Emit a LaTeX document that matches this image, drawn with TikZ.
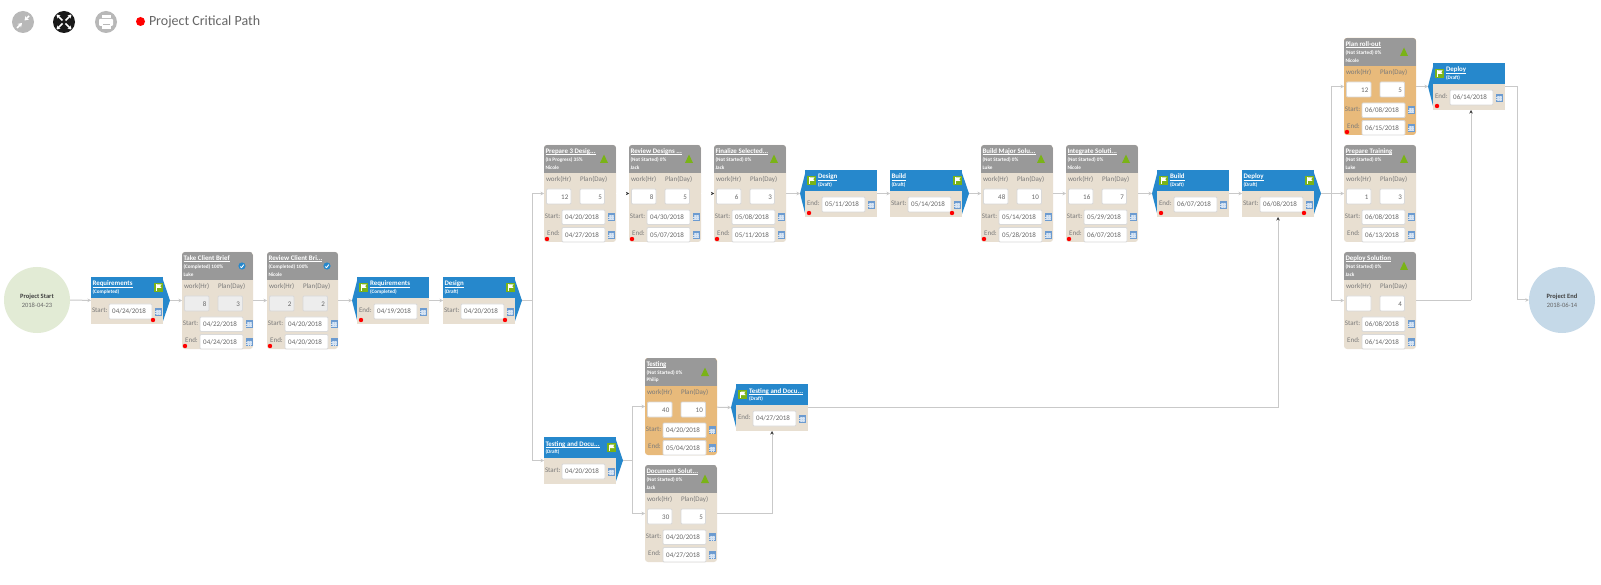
\documentclass[tikz,border=0pt]{standalone}
\usepackage{fontspec}
\setmainfont{Carlito}
\usetikzlibrary{arrows.meta}
\definecolor{tan}{HTML}{E8DFD1}
\definecolor{orangefill}{HTML}{E8BA7B}
\definecolor{headgray}{HTML}{999999}
\definecolor{msblue}{HTML}{2688CC}
\definecolor{flaggreen}{HTML}{7AB317}
\definecolor{linegray}{HTML}{C9C9C9}
\definecolor{lbl}{HTML}{7A7A7A}
\definecolor{datec}{HTML}{666666}
\definecolor{calblue}{HTML}{6C9BD0}
\definecolor{calpale}{HTML}{BCD2EA}
\definecolor{boxline}{HTML}{D9D9D9}
\definecolor{startgreen}{HTML}{E2EBD5}
\definecolor{endblue}{HTML}{C5D9E8}
\tikzset{
  txt/.style={inner sep=0pt,outer sep=0pt,anchor=west},
  cardbody/.style={anchor=north west,inner sep=0pt,outer sep=0pt,rounded corners=3pt,draw=none},
  msbody/.style={anchor=north west,inner sep=0pt,outer sep=0pt,fill=tan,minimum width=72pt,minimum height=47pt},
  title/.style={inner sep=0pt,outer sep=0pt,anchor=base west,text=white,font=\fontsize{6.9}{7}\selectfont\bfseries},
  small/.style={txt,text=white,font=\fontsize{5.2}{6}\selectfont\bfseries},
  label/.style={txt,text=lbl,font=\fontsize{7}{8}\selectfont},
  datebox/.style={draw=boxline,line width=0.8pt,rounded corners=1pt,fill=white},
  datetxt/.style={inner sep=0pt,text=datec,font=\fontsize{7}{8}\selectfont},
  conn/.style={draw=linegray,line width=1pt,-{Stealth[length=3.5pt,width=3.5pt,fill=lbl!70]}},
  connd/.style={draw=linegray,line width=1pt,-{Stealth[length=3.5pt,width=3.5pt,color=black!75]}},
  conng/.style={draw=white,line width=0.2pt,-{Stealth[length=3pt,width=3pt,color=black!80]}},
  reddot/.style={fill=red},
  uline/.style={draw=white,line width=0.4pt},
}
\newcommand{\calicon}[2]{% x y centre
  \fill[calpale] (#1-3,#2-3.5) rectangle (#1+3,#2+3.5);
  \fill[calblue] (#1-3,#2-3.5) rectangle (#1+3,#2-1.5);
  \draw[calblue,line width=0.3pt] (#1-3,#2-3.5) rectangle (#1+3,#2+3.5);
  \draw[calpale!60!white,line width=0.25pt] (#1-3,#2) -- (#1+3,#2) (#1-3,#2+1.8) -- (#1+3,#2+1.8) (#1-1,#2-1.5) -- (#1-1,#2+3.5) (#1+1,#2-1.5) -- (#1+1,#2+3.5);
}
\newcommand{\flagicon}[2]{% x y top-left
  \fill[flaggreen] (#1,#2) rectangle (#1+9,#2+9);
  \fill[white] (#1+2.4,#2+1.5) rectangle (#1+3.1,#2+8);
  \fill[white] (#1+3.1,#2+1.5) -- (#1+7.5,#2+1.5) -- (#1+6.2,#2+3.2) -- (#1+7.5,#2+5) -- (#1+3.1,#2+5) -- cycle;
}
\newcommand{\titletext}[4]{% name x y text
  \node[title] (#1-t) at (#2,#3) {#4};
  \draw[uline] ([yshift=-1pt]#1-t.base west) -- ([yshift=-1pt]#1-t.base east);
}
% \taskcard{name}{x}{y}{width}{fill}{title}{status}{person}{icon}
\newcommand{\taskcard}[9]{%
  \def\nm{#1}\def\cw{#4}\def\cx{#2}\def\cy{#3}\def\cf{#5}%
  \node[cardbody,fill=#5,minimum width=#4pt,minimum height=97pt] (#1) at (#2,#3) {};
  \begin{scope}
    \clip[rounded corners=3pt] (#2,#3) rectangle ++(#4,97);
    \fill[headgray] (#2,#3) rectangle ++(#4,28);
  \end{scope}
  \titletext{#1}{#2+1.5}{#3+8.5}{#6}
  \node[small] (#1-s) at (#2+1.5,#3+15) {#7};
  \node[small] (#1-p) at (#2+1.5,#3+22.5) {#8};
  \ifnum#9=0
    \fill[flaggreen] (#2+60,#3+9.5) -- (#2+64,#3+18) -- (#2+56,#3+18) -- cycle;
  \else
    \fill[msblue] (#2+60,#3+14) circle (3.6);
    \draw[white,line width=0.9pt] (#2+58.3,#3+14.6) -- (#2+59.6,#3+15.6) -- (#2+61.8,#3+12.6);
  \fi
}
% \taskfields{work}{plan}{start}{end}{dot}{boxfill}
\newcommand{\taskfields}[6]{%
  \node[label] (\nm-lw) at (\cx+2,\cy+34.5) {work(Hr)};
  \node[label] (\nm-lp) at (\cx+36,\cy+34.5) {Plan(Day)};
  \path[datebox,fill=#6] (\cx+2.5,\cy+44) rectangle ++(24.5,15);
  \path[datebox,fill=#6] (\cx+36,\cy+44) rectangle ++(24.5,15);
  \node[datetxt,anchor=east] (\nm-w) at (\cx+24.5,\cy+52) {#1};
  \node[datetxt,anchor=east] (\nm-d) at (\cx+58,\cy+52) {#2};
  \node[label] (\nm-ls) at (\cx+0.8,\cy+71) {Start:};
  \path[datebox] (\cx+18,\cy+65) rectangle ++(43,14.5);
  \node[datetxt,anchor=west] (\nm-sd) at (\cx+21,\cy+72.5) {#3};
  \calicon{\cx+67}{\cy+72}
  \node[label] (\nm-le) at (\cx+3.2,\cy+88.5) {End:};
  \path[datebox] (\cx+18,\cy+82.5) rectangle ++(43,14.5);
  \node[datetxt,anchor=west] (\nm-ed) at (\cx+21,\cy+90) {#4};
  \calicon{\cx+67}{\cy+90}
  \ifnum#5=1 \fill[reddot] (\cx+3,\cy+94) circle (2.2); \fi
}
% \msstart{name}{x}{y}{title}{status}{date}{dot}
\newcommand{\msstart}[7]{%
  \fill[msblue] (#2+71,#3) -- (#2+79,#3+23.5) -- (#2+71,#3+47) -- cycle;
  \node[msbody] (#1) at (#2,#3) {};
  \coordinate (#1-tip) at (#2+79,#3+23.5);
  \fill[msblue] (#2,#3) rectangle ++(72,21);
  \titletext{#1}{#2+1.5}{#3+9}{#4}
  \node[small] (#1-s) at (#2+1.5,#3+15) {#5};
  \flagicon{#2+63}{#3+6}
  \node[label] (#1-l) at (#2+1,#3+33) {Start:};
  \path[datebox] (#2+18,#3+27) rectangle ++(43,15);
  \node[datetxt,anchor=west] (#1-d) at (#2+21,#3+34.5) {#6};
  \calicon{#2+67}{#3+34.5}
  \ifnum#7=1 \fill[reddot] (#2+62,#3+43) circle (2.2); \fi
}
% \msend{name}{x}{y}{title}{status}{date}{dot}
\newcommand{\msend}[7]{%
  \fill[msblue] (#2+1,#3) -- (#2-5,#3+23.5) -- (#2+1,#3+47) -- cycle;
  \node[msbody] (#1) at (#2,#3) {};
  \coordinate (#1-tip) at (#2-5,#3+23.5);
  \fill[msblue] (#2,#3) rectangle ++(72,21);
  \flagicon{#2+2}{#3+6}
  \titletext{#1}{#2+13}{#3+9}{#4}
  \node[small] (#1-s) at (#2+13,#3+15) {#5};
  \node[label] (#1-l) at (#2+2,#3+33) {End:};
  \path[datebox] (#2+17,#3+27) rectangle ++(43,15);
  \node[datetxt,anchor=west] (#1-d) at (#2+20,#3+34.5) {#6};
  \calicon{#2+66}{#3+34.5}
  \ifnum#7=1 \fill[reddot] (#2+4,#3+43) circle (2.2); \fi
}
\begin{document}
\begin{tikzpicture}[x=1pt,y=-1pt]
\fill[white] (0,0) rectangle (1601,585);
\useasboundingbox (0,0) rectangle (1601,585);

% toolbar
\fill[black!28] (23,22) circle (11);
\draw[white,line width=1.6pt,-{Stealth[length=4pt,width=5pt]}] (17,28) -- (22,23);
\draw[white,line width=1.6pt,-{Stealth[length=4pt,width=5pt]}] (29,16) -- (24.5,20.5);
\fill[black!90] (64,22) circle (11);
\foreach \dx/\dy in {1/1,1/-1,-1/1,-1/-1}{
  \draw[white,line width=1.5pt,-{Stealth[length=3.5pt,width=4.5pt]}] (64+1.5*\dx,22+1.5*\dy) -- (64+7.5*\dx,22+7.5*\dy);
}
\fill[black!28] (106,22) circle (11);
\fill[white,rounded corners=1pt] (99,19) rectangle (113,26);
\fill[white] (101.5,15) rectangle (110.5,18);
\fill[white] (101.5,25) rectangle (110.5,29);
\fill[black!28] (102.5,24) rectangle (109.5,25);
\fill[red] (140.5,21.5) circle (4.5);
\node[txt,text=datec,font=\fontsize{14}{15}\selectfont] (legend) at (149,22) {Project Critical Path};

% circles
\node[circle,fill=startgreen,minimum size=66pt,inner sep=0pt] (pstart) at (37,300) {};
\node[circle,fill=endblue,minimum size=66pt,inner sep=0pt] (pend) at (1562,300) {};
\node[inner sep=0pt,text=black!75,font=\fontsize{6.5}{7}\selectfont\bfseries] (pstart-t) at (37,296.5) {Project Start};
\node[inner sep=0pt,text=datec,font=\fontsize{6.5}{7}\selectfont] (pstart-d) at (37,305.5) {2018-04-23};
\node[inner sep=0pt,text=black!75,font=\fontsize{6.5}{7}\selectfont\bfseries] (pend-t) at (1562,296.5) {Project End};
\node[inner sep=0pt,text=datec,font=\fontsize{6.5}{7}\selectfont] (pend-d) at (1562,305.5) {2018-06-14};

% milestones
\msstart{reqs}{91}{277}{Requirements}{(Completed)}{04/24/2018}{1}
\msend{reqe}{357}{277}{Requirements}{(Completed)}{04/19/2018}{1}
\msstart{dess}{443}{277}{Design}{(Draft)}{04/20/2018}{1}
\msend{dese}{805}{170}{Design}{(Draft)}{05/11/2018}{1}
\msstart{buis}{890}{170}{Build}{(Draft)}{05/14/2018}{1}
\msend{buie}{1157}{170}{Build}{(Draft)}{06/07/2018}{1}
\msstart{deps}{1242}{170}{Deploy}{(Draft)}{06/08/2018}{1}
\msend{depe}{1433}{63}{Deploy}{(Draft)}{06/14/2018}{1}
\msstart{tds}{544}{437}{Testing and Docu...}{(Draft)}{04/20/2018}{0}
\msend{tde}{736}{384}{Testing and Docu...}{(Draft)}{04/27/2018}{0}

% tasks
\taskcard{take}{182}{252}{71}{tan}{Take Client Brief}{(Completed) 100\%}{Luke}{1}
\taskfields{8}{3}{04/22/2018}{04/24/2018}{1}{black!7}
\taskcard{rev}{267}{252}{71}{tan}{Review Client Bri...}{(Completed) 100\%}{Nicole}{1}
\taskfields{2}{2}{04/20/2018}{04/20/2018}{1}{black!7}
\taskcard{prep}{544}{145}{72}{tan}{Prepare 3 Desig...}{(In Progress) 35\%}{Nicole}{0}
\taskfields{12}{5}{04/20/2018}{04/27/2018}{1}{white}
\taskcard{revd}{629}{145}{72}{tan}{Review Designs ...}{(Not Started) 0\%}{Jack}{0}
\taskfields{8}{5}{04/30/2018}{05/07/2018}{1}{white}
\taskcard{fin}{714}{145}{72}{tan}{Finalize Selected...}{(Not Started) 0\%}{Jack}{0}
\taskfields{6}{3}{05/08/2018}{05/11/2018}{1}{white}
\taskcard{bmaj}{981}{145}{72}{tan}{Build Major Solu...}{(Not Started) 0\%}{Luke}{0}
\taskfields{48}{10}{05/14/2018}{05/28/2018}{1}{white}
\taskcard{integ}{1066}{145}{72}{tan}{Integrate Soluti...}{(Not Started) 0\%}{Nicole}{0}
\taskfields{16}{7}{05/29/2018}{06/07/2018}{1}{white}
\taskcard{test}{645}{358}{72}{orangefill}{Testing}{(Not Started) 0\%}{Philip}{0}
\taskfields{40}{10}{04/20/2018}{05/04/2018}{0}{white}
\taskcard{doc}{645}{465}{72}{tan}{Document Solut...}{(Not Started) 0\%}{Jack}{0}
\taskfields{30}{5}{04/20/2018}{04/27/2018}{0}{white}
\taskcard{plan}{1344}{38}{72}{orangefill}{Plan roll-out}{(Not Started) 0\%}{Nicole}{0}
\taskfields{12}{5}{06/08/2018}{06/15/2018}{1}{white}
\taskcard{train}{1344}{145}{72}{tan}{Prepare Training}{(Not Started) 0\%}{Luke}{0}
\taskfields{1}{3}{06/08/2018}{06/13/2018}{0}{white}
\taskcard{dsol}{1344}{252}{72}{tan}{Deploy Solution}{(Not Started) 0\%}{Jack}{0}
\taskfields{}{4}{06/08/2018}{06/14/2018}{0}{white}

% junction coordinates
\coordinate (j1) at (532,300.5);
\coordinate (j2) at (632,460.5);
\coordinate (j3) at (1331,193.5);
\coordinate (j4) at (1471,300.5);
\coordinate (j5) at (772,513.5);
\coordinate (j6) at (1278,407.5);
\coordinate (j7) at (1517,86.5);

% connectors
\draw[conn] (pstart) -- (reqs);
\draw[conn] (reqs-tip) -- (take);
\draw[conn] (take) -- (rev);
\draw[conn] (rev) -- (reqe-tip);
\draw[conn] (reqe) -- (dess);
\draw[linegray,line width=1pt] (dess-tip) -- (j1);
\draw[conn] (j1) |- (prep);
\draw[conn] (j1) |- (tds);
\draw[conng] (prep) -- (revd);
\draw[conng] (revd) -- (fin);
\draw[conn] (fin) -- (dese-tip);
\draw[conn] (dese) -- (buis);
\draw[conn] (buis-tip) -- (bmaj);
\draw[conn] (bmaj) -- (integ);
\draw[conn] (integ) -- (buie-tip);
\draw[conn] (buie) -- (deps);
\draw[linegray,line width=1pt] (deps-tip) -- (j3);
\draw[conn] (j3) |- (plan);
\draw[conn] (j3) -- (train);
\draw[conn] (j3) |- (dsol);
\draw[conn] (plan) -- (depe-tip);
\draw[linegray,line width=1pt] (dsol) -- (j4);
\draw[connd] (j4) -- (j4 |- depe.south);
\draw[linegray,line width=1pt] (depe) -- (j7);
\draw[conn] (j7) |- (pend);
\draw[linegray,line width=1pt] (tds-tip) -- (j2);
\draw[conn] (j2) |- (test);
\draw[conn] (j2) |- (doc);
\draw[conn] (test) -- (tde-tip);
\draw[linegray,line width=1pt] (doc) -- (j5);
\draw[connd] (j5) -- (j5 |- tde.south);
\draw[linegray,line width=1pt] (tde) -- (j6);
\draw[connd] (j6) -- (j6 |- deps.south);
\end{tikzpicture}
\end{document}
